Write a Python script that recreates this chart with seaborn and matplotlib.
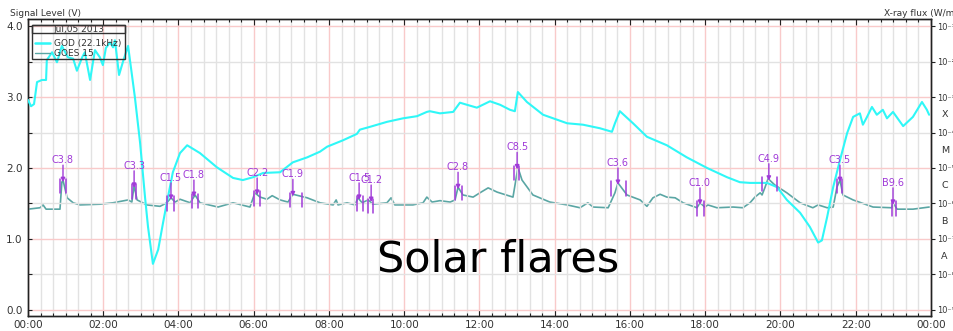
import numpy as np
import pandas as pd
import matplotlib
matplotlib.use("Agg")
import matplotlib.pyplot as plt
import seaborn as sns
from matplotlib.ticker import MultipleLocator, FixedLocator
from matplotlib.patches import Rectangle
from matplotlib.lines import Line2D

# ---------------- data ----------------
god_hours = [0.00, 0.08, 0.16, 0.24, 0.37, 0.48, 0.50, 0.64, 0.77, 0.90, 1.06, 1.20, 1.30, 1.44,
             1.51, 1.65, 1.78, 1.91, 1.99, 2.07, 2.18, 2.26, 2.31, 2.42, 2.52, 2.66, 2.84, 2.98,
             3.11, 3.19, 3.32, 3.46, 3.59, 3.69, 3.85, 4.04, 4.23, 4.57, 5.02, 5.45, 5.71, 5.98,
             6.25, 6.70, 7.04, 7.42, 7.76, 7.95, 8.37, 8.74, 8.82, 9.09, 9.54, 9.97, 10.34, 10.60,
             10.68, 10.95, 11.30, 11.48, 11.67, 11.93, 12.28, 12.55, 12.81, 12.94, 13.02, 13.26,
             13.69, 14.33, 14.75, 15.20, 15.52, 15.60, 15.73, 16.08, 16.45, 16.98, 17.51, 18.05,
             18.58, 18.92, 19.19, 19.64, 19.91, 20.17, 20.52, 20.78, 21.00, 21.10, 21.24, 21.40,
             21.58, 21.77, 21.93, 22.11, 22.19, 22.30, 22.43, 22.56, 22.72, 22.83, 22.99, 23.26,
             23.52, 23.76, 23.89, 23.95]
god_level = [2.96, 2.87, 2.90, 3.21, 3.24, 3.24, 3.52, 3.63, 3.49, 3.72, 3.56, 3.54, 3.37, 3.56,
             3.63, 3.24, 3.66, 3.56, 3.45, 3.69, 3.77, 3.70, 3.80, 3.31, 3.49, 3.72, 3.00, 2.35,
             1.59, 1.17, 0.65, 0.85, 1.23, 1.51, 1.94, 2.21, 2.32, 2.21, 2.01, 1.86, 1.83, 1.87,
             1.93, 1.94, 2.08, 2.15, 2.23, 2.30, 2.39, 2.48, 2.54, 2.58, 2.65, 2.70, 2.73, 2.79,
             2.80, 2.77, 2.79, 2.92, 2.89, 2.85, 2.94, 2.89, 2.82, 2.80, 3.07, 2.93,
             2.75, 2.63, 2.61, 2.56, 2.51, 2.63, 2.80, 2.63, 2.44, 2.32, 2.15, 2.00,
             1.87, 1.80, 1.79, 1.79, 1.73, 1.55, 1.37, 1.17, 0.95, 0.98, 1.31, 1.73,
             2.11, 2.49, 2.72, 2.77, 2.61, 2.72, 2.86, 2.75, 2.82, 2.70, 2.79, 2.59,
             2.72, 2.93, 2.82, 2.75]

goes_hours = [0.00, 0.32, 0.40, 0.48, 0.85, 0.90, 0.93, 1.04, 1.20, 1.38, 1.91, 2.26, 2.66, 2.76,
              2.82, 2.90, 3.16, 3.51, 3.69, 3.80, 3.91, 4.04, 4.31, 4.44, 4.57, 5.05, 5.45, 5.90,
              6.03, 6.17, 6.35, 6.49, 6.70, 6.91, 7.04, 7.42, 7.76, 8.11, 8.19, 8.24, 8.48, 8.69,
              8.77, 8.88, 9.04, 9.17, 9.54, 9.65, 9.75, 10.23, 10.50, 10.60, 10.74, 10.95, 11.22,
              11.35, 11.43, 11.56, 11.83, 12.01, 12.23, 12.47, 12.89, 13.00, 13.02, 13.13, 13.42,
              13.87, 14.33, 14.67, 14.88, 15.02, 15.42, 15.60, 15.68, 15.92, 16.27, 16.45, 16.61,
              16.80, 16.98, 17.20, 17.41, 17.78, 17.86, 17.99, 18.07, 18.31, 18.74, 19.00, 19.19,
              19.32, 19.46, 19.51, 19.59, 19.67, 19.85, 20.17, 20.52, 20.86, 21.00, 21.24, 21.40,
              21.50, 21.58, 21.66, 21.93, 22.46, 22.96, 22.99, 23.10, 23.52, 23.95]
goes_log_flux = [-6.16, -6.12, -6.04, -6.16, -6.16, -5.40, -5.34, -5.84, -5.98, -6.04, -6.02, -5.98,
                 -5.90, -5.96, -5.50, -5.90, -6.04, -6.08, -5.98, -5.84, -5.96, -5.88, -5.98, -5.76,
                 -5.98, -6.10, -5.98, -6.10, -5.70, -5.82, -5.88, -5.78, -5.90, -5.96, -5.74, -5.84,
                 -5.98, -6.04, -5.90, -6.04, -5.98, -6.04, -5.84, -5.98, -5.90, -6.02, -5.98, -5.84,
                 -6.04, -6.04, -5.98, -5.82, -5.96, -5.92, -5.96, -5.90, -5.54, -5.76, -5.82, -5.70,
                 -5.56, -5.68, -5.82, -5.12, -4.98, -5.34, -5.76, -5.96, -6.04, -6.12, -5.98, -6.10,
                 -6.12, -5.70, -5.42, -5.76, -5.90, -6.08, -5.84, -5.74, -5.82, -5.84, -5.98, -6.12,
                 -5.98, -6.10, -6.04, -6.12, -6.10, -6.12, -5.98, -5.82, -5.70, -5.76, -5.54, -5.30,
                 -5.48, -5.70, -5.98, -6.12, -6.04, -6.12, -6.10, -5.54, -5.34, -5.76, -5.90, -6.10,
                 -6.12, -5.98, -6.16, -6.16, -6.10]

flare_labels = ["C3.8", "C3.3", "C1.5", "C1.8", "C2.2", "C1.9", "C1.5", "C1.2", "C2.8", "C8.5",
                "C3.6", "C1.0", "C4.9", "C3.5", "B9.6"]
flare_peak = [0.93, 2.82, 3.80, 4.41, 6.09, 7.04, 8.80, 9.12, 11.43, 13.00, 15.68, 17.86, 19.69,
              21.58, 22.99]
flare_start = [0.85, 2.76, 3.69, 4.36, 6.01, 6.96, 8.74, 9.04, 11.35, 12.92, 15.50, 17.78, 19.51,
               21.50, 22.96]
flare_end = [1.01, 2.87, 3.88, 4.52, 6.17, 7.28, 8.90, 9.17, 11.54, 13.05, 15.90, 17.97, 19.91,
             21.64, 23.07]

xtick_hours = list(range(0, 25, 2))
xtick_labels = ["00:00", "02:00", "04:00", "06:00", "08:00", "10:00", "12:00", "14:00", "16:00",
                "18:00", "20:00", "22:00", "00:00"]
left_ticks = [0.0, 1.0, 2.0, 3.0, 4.0]
left_tick_labels = ["0.0", "1.0", "2.0", "3.0", "4.0"]
right_exponents = [-9, -8, -7, -6, -5, -4, -3, -2, -1]
right_tick_labels = ["10⁻⁹", "10⁻⁸", "10⁻⁷", "10⁻⁶", "10⁻⁵", "10⁻⁴", "10⁻³", "10⁻²", "10⁻¹"]
class_letters = ["A", "B", "C", "M", "X"]
class_exponents = [-7.5, -6.5, -5.5, -4.5, -3.5]

legend_title = "Jul,05 2013"
god_name = "GOD (22.1kHz)"
goes_name = "GOES 15"

# ---------------- style ----------------
sns.set_theme(style="white")
plt.rcParams["font.family"] = ["DejaVu Sans"]

CYAN = "#2ff7f7"
TEAL = "#5aa6a4"
PURPLE = "#a03ad8"
TXT = "#333333"
PINK = "#f9caca"
GREY = "#e2e2e2"

fig = plt.figure(figsize=(9.54, 3.31), dpi=100)
ax = fig.add_axes([28 / 954, 1 - 316 / 331, (931 - 28) / 954, (316 - 19) / 331])

VMIN, VMAX = -0.085, 4.099
ax.set_xlim(0, 24)
ax.set_ylim(VMIN, VMAX)

god_df = pd.DataFrame({"hour": god_hours, "level": god_level})
sns.lineplot(data=god_df, x="hour", y="level", ax=ax, color=CYAN, lw=1.5, zorder=3)

ax2 = ax.twinx()
ax2.set_yscale("log")
ax2.set_ylim(10 ** (-9 + 2 * VMIN), 10 ** (-9 + 2 * VMAX))
goes_df = pd.DataFrame({"hour": goes_hours, "flux": 10.0 ** np.array(goes_log_flux)})
sns.lineplot(data=goes_df, x="hour", y="flux", ax=ax2, color=TEAL, lw=1.2, zorder=3)
ax2.set_xlim(0, 24)

# grid
ax.xaxis.set_major_locator(FixedLocator(xtick_hours))
ax.xaxis.set_minor_locator(MultipleLocator(1 / 3))
ax.set_xticklabels(xtick_labels)
ax.yaxis.set_major_locator(FixedLocator(left_ticks))
ax.set_yticklabels(left_tick_labels)
ax.yaxis.set_minor_locator(MultipleLocator(0.5))
ax.grid(which="minor", color=GREY, lw=1.0, zorder=0)
ax.grid(which="major", color=PINK, lw=1.0, zorder=0)
ax.set_axisbelow(True)
ax.set_xlabel("")
ax.set_ylabel("")
ax2.set_ylabel("")

ax.tick_params(axis="x", which="both", direction="in", top=True, bottom=True,
               labelsize=7.5, labelcolor=TXT, color="#222222", pad=3)
ax.tick_params(axis="x", which="major", length=4, width=0.8)
ax.tick_params(axis="x", which="minor", length=2.5, width=0.8)
ax.tick_params(axis="y", which="both", direction="in", left=True, right=False,
               labelsize=7.5, labelcolor=TXT, color="#222222", width=0.8, pad=4)
ax.tick_params(axis="y", which="major", length=3)
ax.tick_params(axis="y", which="minor", length=3)

ax2.yaxis.set_major_locator(FixedLocator([10.0 ** e for e in right_exponents]))
ax2.set_yticklabels(right_tick_labels)
ax2.yaxis.set_minor_locator(FixedLocator([]))
ax2.tick_params(axis="y", which="major", direction="out", length=3, width=0.8,
                labelsize=5.9, labelcolor=TXT, color="#222222", pad=1.2)

for a in (ax, ax2):
    for s in a.spines.values():
        s.set_color("#222222")
        s.set_linewidth(1.0)
        s.set_visible(True)

for letter, e in zip(class_letters, class_exponents):
    ax2.text(1.0115, 10.0 ** e, letter, transform=ax2.get_yaxis_transform(),
             ha="left", va="center", fontsize=6.8, color=TXT)

# flare annotations (in V units on the left axis)
dense_t = np.linspace(0, 24, 4801)
dense_v = (np.interp(dense_t, goes_hours, goes_log_flux) + 9) / 2
for lab, tp, ts, te in zip(flare_labels, flare_peak, flare_start, flare_end):
    m = (dense_t >= ts) & (dense_t <= te)
    pv = dense_v[m].max()
    for tb in (ts, te):
        ax.plot([tb, tb], [pv - 0.18, pv + 0.02], color=PURPLE, lw=1.1, zorder=5)
    ax.annotate("", xy=(tp, pv - 0.03), xytext=(tp, pv + 0.21),
                arrowprops=dict(arrowstyle="-|>", color=PURPLE, lw=1.0,
                                mutation_scale=6, shrinkA=0, shrinkB=0), zorder=5)
    ax.text(tp, pv + 0.28, lab, ha="center", va="center", fontsize=7, color=PURPLE, zorder=5)

ax.set_zorder(ax2.get_zorder() + 1)
ax.patch.set_visible(False)

ax.text(12.5, 0.535, "Solar flares", ha="center", va="baseline", fontsize=31, color="black",
        zorder=6)

# legend
box = Rectangle((4 / 903, 1 - 40 / 297), 93 / 903, 34 / 297, transform=ax.transAxes,
                fill=False, edgecolor="#333333", lw=1.0, zorder=7)
ax.add_patch(box)
head = Rectangle((4 / 903, 1 - 14 / 297), 93 / 903, 8 / 297, transform=ax.transAxes,
                 fill=False, edgecolor="#333333", lw=1.0, zorder=7)
ax.add_patch(head)
ax.text(50.5 / 903, 1 - 10 / 297, legend_title, transform=ax.transAxes, ha="center",
        va="center", fontsize=6.5, color=TXT, zorder=7)
handles = [Line2D([], [], color=CYAN, lw=1.8), Line2D([], [], color=TEAL, lw=1.0)]
leg = ax.legend(handles, [god_name, goes_name], loc="upper left",
                bbox_to_anchor=(7 / 903, 1 - 20 / 297), frameon=False, fontsize=6.5,
                borderpad=0, borderaxespad=0, handlelength=1.7, handletextpad=0.35,
                labelspacing=0.15)
for t in leg.get_texts():
    t.set_color(TXT)

fig.text(10 / 954, 1 - 14 / 331, "Signal Level (V)", ha="left", va="center", fontsize=6.5,
         color=TXT)
fig.text(884 / 954, 1 - 14 / 331, "X-ray flux (W/m²)", ha="left", va="center", fontsize=6.5,
         color=TXT)

fig.savefig("out.png", dpi=100)
